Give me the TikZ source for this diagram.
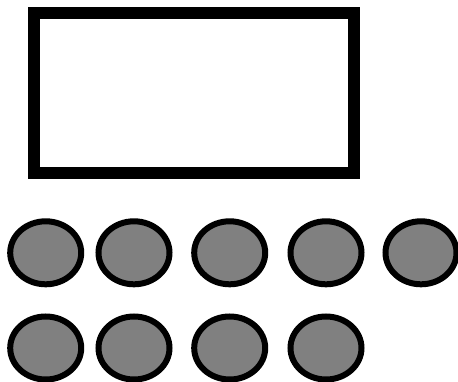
\documentclass[tikz,border=0pt]{standalone}
\usetikzlibrary{shapes.geometric}
\begin{document}
\begin{tikzpicture}[x=1pt,y=-1pt,
  frame/.style={draw=black,line width=12pt,fill=white,minimum width=320pt,minimum height=160pt,inner sep=0pt},
  dot/.style={ellipse,draw=black,line width=6pt,fill=gray,minimum width=71pt,minimum height=63pt,inner sep=0pt}]
\useasboundingbox (0,0) rectangle (458,382);
\node[frame] (box) at (194,93) {};
\node[dot] (a1) at (45.7,252.8) {};
\node[dot] (a2) at (134,252.8) {};
\node[dot] (a3) at (229.7,252.8) {};
\node[dot] (a4) at (326,252.8) {};
\node[dot] (a5) at (421,252.8) {};
\node[dot] (b1) at (45.7,348) {};
\node[dot] (b2) at (134,348) {};
\node[dot] (b3) at (229.7,348) {};
\node[dot] (b4) at (326,348) {};
\end{tikzpicture}
\end{document}
